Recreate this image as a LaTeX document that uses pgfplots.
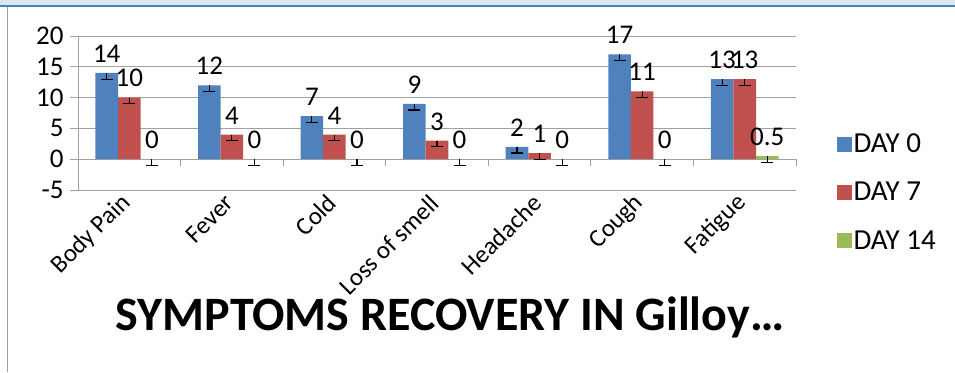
\documentclass[border=0pt]{standalone}
\usepackage{pgfplots}
\usepackage{pgfplotstable}
\pgfplotsset{compat=1.18}
\usepackage{fontspec}
\setmainfont{Carlito}
\definecolor{c0}{HTML}{4F81BD}
\definecolor{c7}{HTML}{C0504D}
\definecolor{c14}{HTML}{9BBB59}
\definecolor{gridc}{HTML}{A0A0A0}
\definecolor{bandc}{HTML}{DCE6F2}
\definecolor{bandl}{HTML}{4F81BD}
\newcommand{\lbl}{\fontsize{25}{30}\selectfont}
\newcommand{\ylbl}{\fontsize{27}{32}\selectfont}
\newcommand{\dlbl}{\fontsize{27}{32}\selectfont}
\newcommand{\leglbl}{\fontsize{29}{34}\selectfont}
\pgfplotsset{sqlegend/.style={legend image code/.code={\path[##1,draw=none] (0pt,-7.5pt) rectangle (15pt,7.5pt);}}}

\pgfplotstableread{
x y e
0 14 1
1 12 1
2 7 1
3 9 1
4 2 1
5 17 1
6 13 1
}\dayzero
\pgfplotstableread{
x y e
0 10 1
1 4 1
2 4 1
3 3 1
4 1 1
5 11 1
6 13 1
}\dayseven
\pgfplotstableread{
x y e
0 0 1
1 0 1
2 0 1
3 0 1
4 0 1
5 0 1
6 0.5 1
}\dayfourteen

\begin{document}
\begin{tikzpicture}
\useasboundingbox (0,0) rectangle (955pt,-372pt);
\fill[bandc] (0,0) rectangle (955pt,-5pt);
\fill[bandl] (0,-5pt) rectangle (955pt,-7pt);
\draw[gridc, line width=1pt] (7.5pt,-7pt) -- (7.5pt,-372pt);
\begin{axis}[
  at={(78pt,-190pt)}, anchor=south west,
  scale only axis, width=718pt, height=154pt,
  ymin=-5, ymax=20, ytick={-5,0,...,20},
  xmin=-0.5, xmax=6.5, xtick={0,...,6},
  xticklabels={Body Pain,Fever,Cold,Loss of smell,Headache,Cough,Fatigue},
  axis x line*=bottom, axis y line*=left,
  axis line style={draw=gridc, line width=1pt, -},
  ymajorgrids, grid style={gridc, line width=1pt},
  tick align=outside, major tick length=8pt,
  ytick style={gridc, line width=1pt},
  xtick style={draw=none},
  xticklabel style={font=\lbl},
  yticklabel style={font=\ylbl, xshift=-3pt},
  /pgf/number format/assume math mode=true,
  xticklabel style={rotate=45, anchor=east, xshift=1pt, yshift=1pt},
  ybar=0pt, bar width=0.22,
  clip=false,
  nodes near coords,
  nodes near coords style={font=\dlbl, text=black, yshift=7pt},
  legend style={draw=none, fill=none, at={(1.052,-0.015)}, anchor=west,
    font=\leglbl, row sep=24pt, cells={anchor=west}},
]
\addplot[fill=c0, draw=none, sqlegend,
  error bars/.cd, y dir=minus, y explicit,
  error bar style={black, line width=1.2pt},
  error mark options={rotate=90, mark size=6pt, black, line width=1.2pt}]
  table[x=x, y=y, y error=e] {\dayzero};
\addplot[fill=c7, draw=none, sqlegend,
  error bars/.cd, y dir=minus, y explicit,
  error bar style={black, line width=1.2pt},
  error mark options={rotate=90, mark size=6pt, black, line width=1.2pt}]
  table[x=x, y=y, y error=e] {\dayseven};
\addplot[fill=c14, draw=none, sqlegend,
  error bars/.cd, y dir=minus, y explicit,
  error bar style={black, line width=1.2pt},
  error mark options={rotate=90, mark size=6pt, black, line width=1.2pt}]
  table[x=x, y=y, y error=e] {\dayfourteen};
\legend{DAY 0, DAY 7, DAY 14}
\pgfplotsinvokeforeach{-0.5,0.5,1.5,2.5,3.5,4.5,5.5,6.5}{
  \draw[gridc, line width=1pt] (axis cs:#1,0) -- ([yshift=-7pt]axis cs:#1,0);
}
\end{axis}
\node[font=\fontsize{48}{52}\selectfont\bfseries, anchor=base] at (450pt,-330pt) {SYMPTOMS RECOVERY IN Gilloy…};
\end{tikzpicture}
\end{document}
